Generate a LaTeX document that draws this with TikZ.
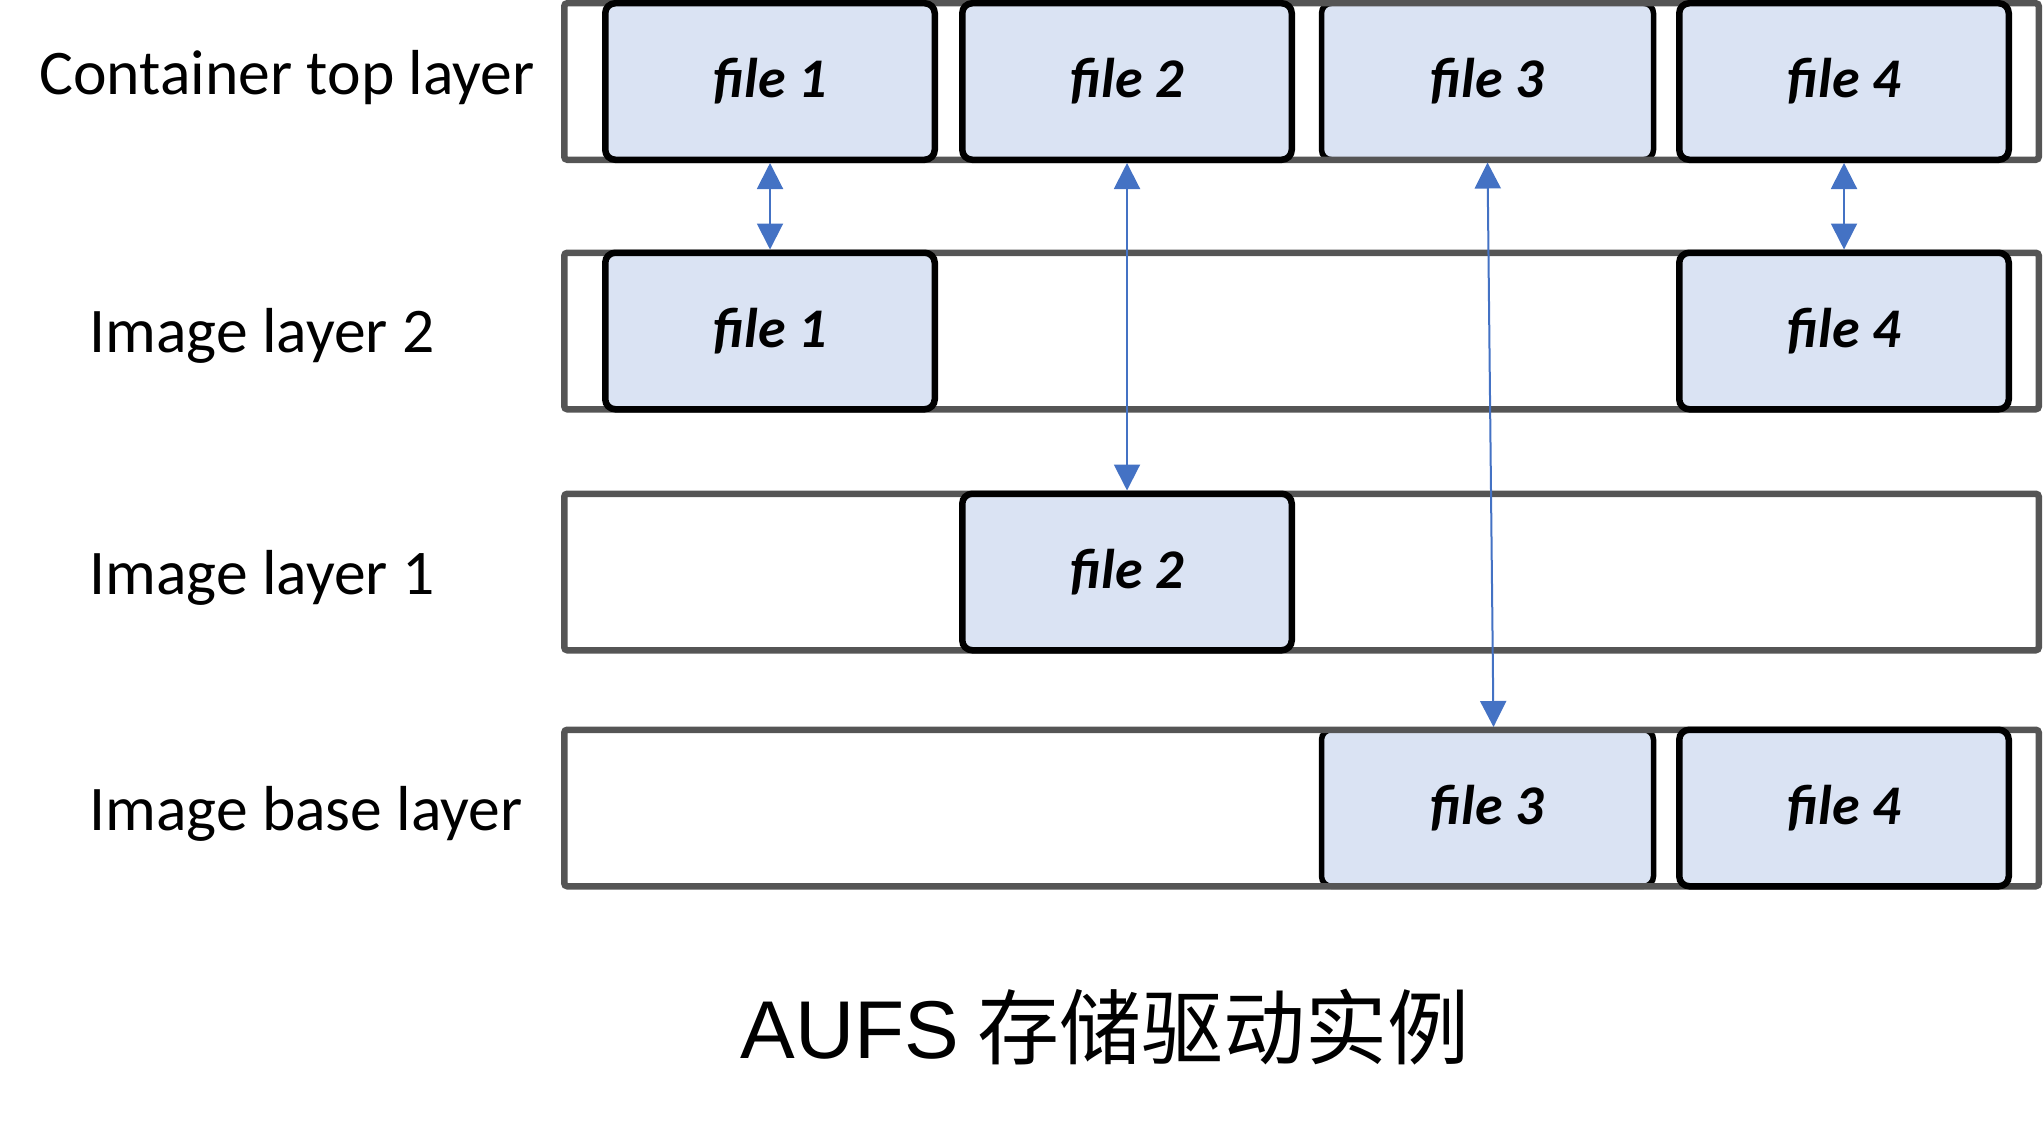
\documentclass[tikz,border=0pt]{standalone}
\usepackage{fontspec}
\setmainfont{Carlito}
\newfontfamily\titlelatin{Liberation Sans}
\newfontfamily\titlecjk{Noto Sans CJK SC}
\usetikzlibrary{arrows.meta}
\definecolor{barline}{HTML}{555555}
\definecolor{boxfill}{HTML}{DAE3F3}
\definecolor{arrowblue}{HTML}{4472C4}
\tikzset{
  layerbar/.style={draw=barline, line width=3.25pt, rounded corners=1.5pt,
    minimum width=737.25pt, minimum height=78.25pt, inner sep=0pt},
  filebox/.style={draw=black, line width=3.25pt, rounded corners=5pt, fill=boxfill,
    minimum width=164.75pt, minimum height=78.25pt, inner sep=0pt,
    font=\fontsize{28}{30}\selectfont\bfseries\itshape},
  underbox/.style={filebox, line width=2.75pt, minimum width=166pt},
  layerlabel/.style={anchor=base west, inner sep=0pt, font=\fontsize{31.8}{36}\selectfont},
  link/.style={draw=arrowblue, line width=1pt, {Triangle[width=13pt,length=13pt]}-{Triangle[width=13pt,length=13pt]}}
}
\begin{document}
\begin{tikzpicture}[x=0.5pt, y=-0.5pt]
\useasboundingbox (0,0) rectangle (2043,1129);
% file 3 boxes lie beneath the layer outlines
\node[underbox] (t3) at (1487.5,81.5) {file 3};
\node[underbox] (b3) at (1487.5,808) {file 3};
% layer bars
\node[layerbar] (bar1) at (1301.5,81.5) {};
\node[layerbar] (bar2) at (1301.5,331) {};
\node[layerbar] (bar3) at (1301.5,572) {};
\node[layerbar] (bar4) at (1301.5,808) {};
% labels
\node[layerlabel] (lab1) at (39,95) {Container top layer};
\node[layerlabel] (lab2) at (89,352) {Image layer 2};
\node[layerlabel] (lab3) at (89,594) {Image layer 1};
\node[layerlabel] (lab4) at (89,830) {Image base layer};
% file boxes, top layer
\node[filebox] (t1) at (770,81.5) {file 1};
\node[filebox] (t2) at (1127,81.5) {file 2};
\node[filebox] (t4) at (1844,81.5) {file 4};
% image layer 2
\node[filebox] (a1) at (770,331) {file 1};
\node[filebox] (a4) at (1844,331) {file 4};
% image layer 1
\node[filebox] (m2) at (1127,572) {file 2};
% image base layer
\node[filebox] (b4) at (1844,808) {file 4};
% connectors
\draw[link] (t1.south) -- (a1.north);
\draw[link] (t2.south) -- (m2.north);
\draw[link] (t3.south) -- ([xshift=3pt]b3.north);
\draw[link] (t4.south) -- (a4.north);
% title
\node[anchor=base, inner sep=0pt, font=\fontsize{41}{46}\selectfont] (title) at (1105,1058)
  {{\titlelatin AUFS} {\titlecjk 存储驱动实例}};
\end{tikzpicture}
\end{document}
